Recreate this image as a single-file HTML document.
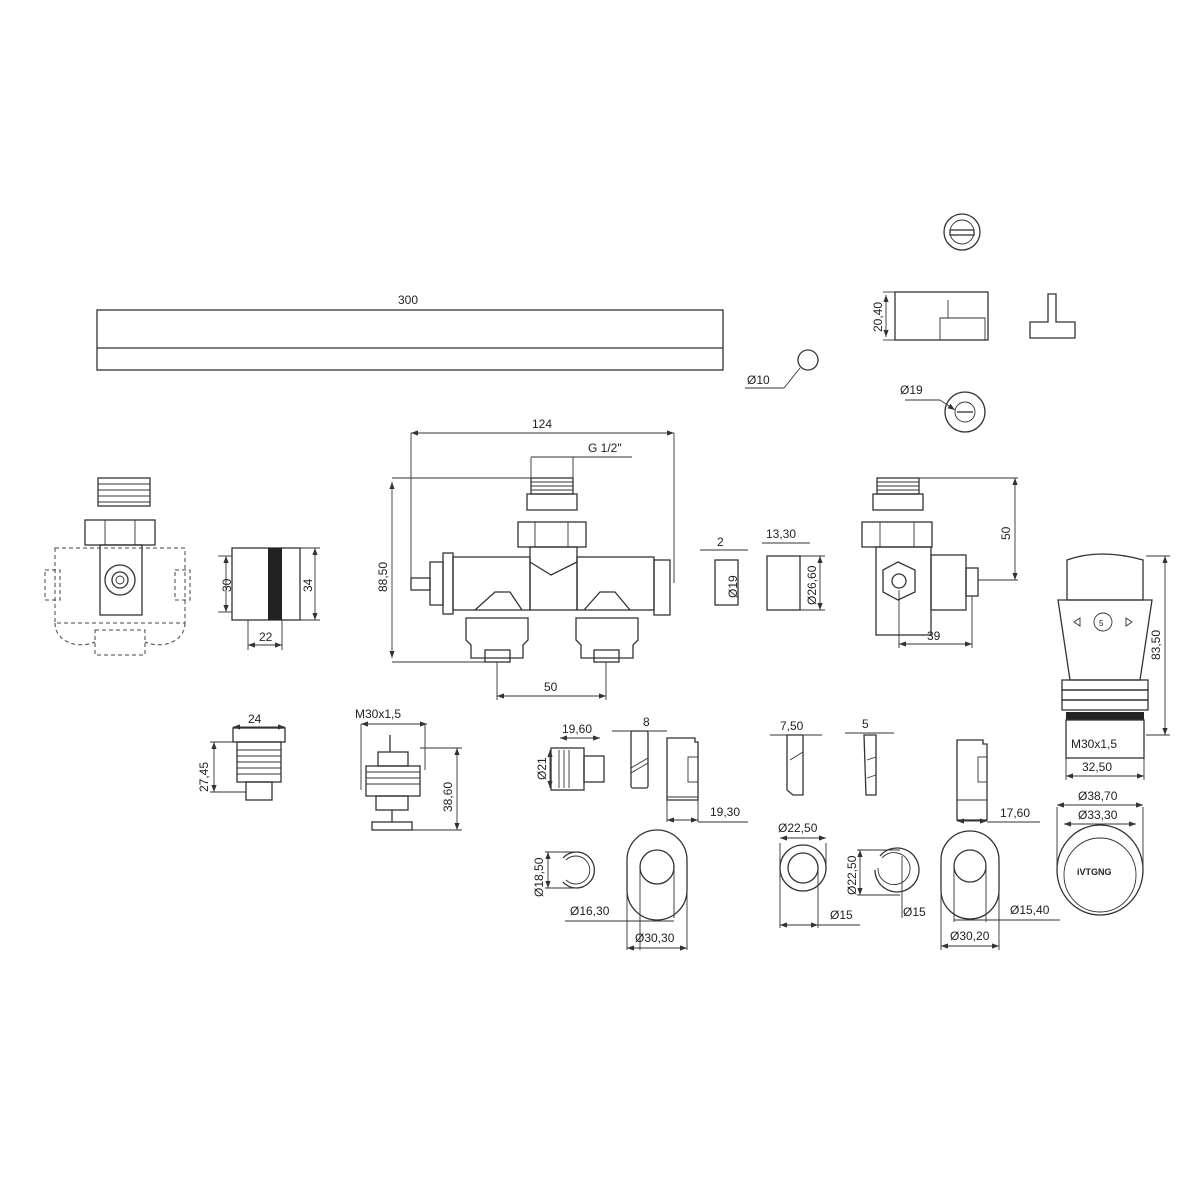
<!DOCTYPE html>
<html><head><meta charset="utf-8"><style>
body{margin:0;background:#fff}
svg{display:block}
text{font-family:"Liberation Sans",sans-serif;font-size:12px;fill:#222}
.l{stroke:#333;stroke-width:1.3;fill:none}
.t{stroke:#333;stroke-width:0.9;fill:none}
.d{stroke:#444;stroke-width:1;fill:none;stroke-dasharray:4 3}
.f{fill:#fff;stroke:#333;stroke-width:1.3}
</style></head><body>
<svg width="1200" height="1200" viewBox="0 0 1200 1200">
<defs><marker id="a" markerWidth="8" markerHeight="6" refX="8" refY="3" orient="auto-start-reverse"><path d="M0,0 L8,3 L0,6z" fill="#333"/></marker></defs>
<!-- bar -->
<rect x="97" y="310" width="626" height="60" class="l"/>
<line x1="97" y1="348" x2="723" y2="348" class="l"/>
<line x1="97" y1="310" x2="723" y2="310" class="t"/>
<text x="398" y="304">300</text>
<!-- Ø10 -->
<circle cx="808" cy="360" r="10" class="l"/>
<line x1="800" y1="368" x2="784" y2="388" class="t"/><line x1="745" y1="388" x2="784" y2="388" class="t"/>
<text x="747" y="384">Ø10</text>
<!-- top right -->
<circle cx="962" cy="232" r="18" class="l"/><circle cx="962" cy="232" r="12" class="t"/>
<rect x="950" y="230" width="24" height="5" class="f"/>
<rect x="895" y="292" width="93" height="48" class="l"/>
<path d="M940,340 V318 H985 V340" class="t"/><line x1="948" y1="318" x2="948" y2="300" class="t"/>
<line x1="883" y1="292" x2="895" y2="292" class="t"/><line x1="883" y1="340" x2="895" y2="340" class="t"/>
<line x1="886" y1="295" x2="886" y2="337" class="t" marker-start="url(#a)" marker-end="url(#a)"/>
<text transform="translate(882,332) rotate(-90)">20,40</text>
<path d="M1030,338 V322 H1048 V294 H1056 V322 H1075 V338 Z" class="l"/>
<circle cx="965" cy="412" r="20" class="l"/><circle cx="965" cy="412" r="10" class="t"/>
<path d="M957,412 H973" class="l"/>
<line x1="905" y1="400" x2="940" y2="400" class="t"/><line x1="940" y1="400" x2="955" y2="410" class="t" marker-end="url(#a)"/>
<text x="900" y="394">Ø19</text>
<!-- left valve -->
<rect x="98" y="478" width="52" height="28" class="l"/>
<g class="t"><line x1="98" y1="484" x2="150" y2="484"/><line x1="98" y1="490" x2="150" y2="490"/><line x1="98" y1="496" x2="150" y2="496"/><line x1="98" y1="502" x2="150" y2="502"/></g>
<rect x="85" y="520" width="70" height="25" class="l"/><line x1="105" y1="520" x2="105" y2="545" class="t"/><line x1="135" y1="520" x2="135" y2="545" class="t"/>
<rect x="100" y="545" width="42" height="70" class="l"/>
<rect x="55" y="548" width="130" height="75" class="d"/>
<path d="M45,570 H60 V600 H45 Z M175,570 H190 V600 H175 Z" class="d"/>
<path d="M55,623 C55,640 75,650 95,642 M185,623 C185,640 165,650 145,642" class="d"/>
<rect x="95" y="630" width="50" height="25" class="d"/>
<circle cx="120" cy="580" r="15" class="l"/><circle cx="120" cy="580" r="8" class="l"/><circle cx="120" cy="580" r="4" class="t"/>
<!-- cylinder -->
<rect x="232" y="548" width="68" height="72" class="l"/>
<rect x="268" y="548" width="14" height="72" fill="#222"/>
<line x1="218" y1="556" x2="232" y2="556" class="t"/><line x1="218" y1="612" x2="232" y2="612" class="t"/>
<line x1="226" y1="556" x2="226" y2="612" class="t" marker-start="url(#a)" marker-end="url(#a)"/>
<text transform="translate(231,592) rotate(-90)">30</text>
<line x1="300" y1="548" x2="320" y2="548" class="t"/><line x1="300" y1="620" x2="320" y2="620" class="t"/>
<line x1="315" y1="548" x2="315" y2="620" class="t" marker-start="url(#a)" marker-end="url(#a)"/>
<text transform="translate(312,592) rotate(-90)">34</text>
<line x1="248" y1="620" x2="248" y2="650" class="t"/><line x1="282" y1="620" x2="282" y2="650" class="t"/>
<line x1="248" y1="645" x2="282" y2="645" class="t" marker-start="url(#a)" marker-end="url(#a)"/>
<text x="259" y="641">22</text>
<!-- main valve -->
<line x1="411" y1="433" x2="674" y2="433" class="t" marker-start="url(#a)" marker-end="url(#a)"/>
<text x="532" y="428">124</text>
<line x1="411" y1="433" x2="411" y2="583" class="t"/><line x1="674" y1="433" x2="674" y2="583" class="t"/>
<line x1="531" y1="457" x2="632" y2="457" class="t"/>
<line x1="531" y1="457" x2="531" y2="480" class="t"/><line x1="573" y1="457" x2="573" y2="480" class="t"/>
<text x="588" y="452">G 1/2"</text>
<rect x="531" y="478" width="42" height="16" class="l"/>
<g class="t"><line x1="531" y1="482" x2="573" y2="482"/><line x1="531" y1="486" x2="573" y2="486"/><line x1="531" y1="490" x2="573" y2="490"/></g>
<path d="M527,494 H577 V510 H527 Z" class="l"/>
<rect x="518" y="522" width="68" height="25" class="l"/><line x1="535" y1="522" x2="535" y2="547" class="t"/><line x1="568" y1="522" x2="568" y2="547" class="t"/>
<rect x="530" y="547" width="47" height="63" class="l"/>
<path d="M530,562 L551,575 L577,562" class="l"/>
<rect x="453" y="557" width="77" height="53" class="l"/><rect x="577" y="557" width="77" height="53" class="l"/>
<rect x="443" y="553" width="10" height="61" class="l"/><rect x="430" y="562" width="13" height="43" class="l"/><rect x="411" y="578" width="19" height="12" class="l"/>
<rect x="654" y="560" width="16" height="55" class="l"/>
<path d="M475,610 L495,592 L510,592 L522,610" class="l"/><path d="M584,610 L600,592 L615,592 L630,610" class="l"/>
<path d="M466,618 H528 V640 L523,645 V658 H471 V645 L466,640 Z" class="l"/>
<path d="M576,618 H638 V640 L633,645 V658 H581 V645 L576,640 Z" class="l"/>
<rect x="485" y="650" width="25" height="12" class="l"/><rect x="594" y="650" width="25" height="12" class="l"/>
<line x1="392" y1="478" x2="531" y2="478" class="t"/><line x1="392" y1="662" x2="490" y2="662" class="t"/>
<line x1="392" y1="482" x2="392" y2="658" class="t" marker-start="url(#a)" marker-end="url(#a)"/>
<text transform="translate(387,592) rotate(-90)">88,50</text>
<line x1="497" y1="662" x2="497" y2="700" class="t"/><line x1="606" y1="662" x2="606" y2="700" class="t"/>
<line x1="497" y1="696" x2="606" y2="696" class="t" marker-start="url(#a)" marker-end="url(#a)"/>
<text x="544" y="691">50</text>
<!-- small parts 2 / 13,30 -->
<rect x="715" y="560" width="23" height="45" class="l"/>
<line x1="700" y1="550" x2="748" y2="550" class="t"/><text x="717" y="546">2</text>
<text transform="translate(737,598) rotate(-90)">Ø19</text>
<rect x="767" y="556" width="33" height="54" class="l"/>
<line x1="762" y1="543" x2="810" y2="543" class="t"/><text x="766" y="538">13,30</text>
<line x1="800" y1="556" x2="825" y2="556" class="t"/><line x1="800" y1="610" x2="825" y2="610" class="t"/>
<line x1="820" y1="556" x2="820" y2="610" class="t" marker-start="url(#a)" marker-end="url(#a)"/>
<text transform="translate(816,605) rotate(-90)">Ø26,60</text>
<!-- right valve -->
<rect x="877" y="478" width="42" height="16" class="l"/>
<g class="t"><line x1="877" y1="482" x2="919" y2="482"/><line x1="877" y1="486" x2="919" y2="486"/><line x1="877" y1="490" x2="919" y2="490"/></g>
<rect x="873" y="494" width="50" height="16" class="l"/>
<rect x="862" y="522" width="70" height="25" class="l"/><line x1="880" y1="522" x2="880" y2="547" class="t"/><line x1="914" y1="522" x2="914" y2="547" class="t"/>
<rect x="876" y="547" width="55" height="88" class="l"/>
<rect x="931" y="555" width="35" height="55" class="l"/><rect x="966" y="568" width="12" height="28" class="l"/>
<polygon points="883,570 898,562 915,570 915,592 898,600 883,592" class="l"/><circle cx="899" cy="581" r="7" class="l"/>
<line x1="919" y1="478" x2="1018" y2="478" class="t"/><line x1="978" y1="580" x2="1018" y2="580" class="t"/>
<line x1="1015" y1="478" x2="1015" y2="580" class="t" marker-start="url(#a)" marker-end="url(#a)"/>
<text transform="translate(1010,540) rotate(-90)">50</text>
<line x1="899" y1="590" x2="899" y2="648" class="t"/><line x1="972" y1="596" x2="972" y2="648" class="t"/>
<line x1="899" y1="644" x2="972" y2="644" class="t" marker-start="url(#a)" marker-end="url(#a)"/>
<text x="927" y="640">39</text>
<!-- thermostat head -->
<path d="M1067,560 Q1100,548 1143,560 V600 H1067 Z" class="l"/>
<path d="M1058,600 H1152 L1140,680 H1070 Z" class="l"/>
<circle cx="1103" cy="622" r="9" class="t"/><text x="1099" y="626" style="font-size:8px">5</text>
<path d="M1080,618 l-6,4 6,4z M1126,618 l6,4 -6,4z" class="t"/>
<g class="l"><rect x="1062" y="680" width="86" height="10"/><rect x="1062" y="690" width="86" height="10"/><rect x="1062" y="700" width="86" height="10"/></g>
<rect x="1066" y="712" width="78" height="8" fill="#222"/>
<rect x="1066" y="720" width="78" height="38" class="l"/>
<text x="1071" y="748">M30x1,5</text>
<line x1="1146" y1="556" x2="1170" y2="556" class="t"/><line x1="1146" y1="735" x2="1170" y2="735" class="t"/>
<line x1="1165" y1="556" x2="1165" y2="735" class="t" marker-start="url(#a)" marker-end="url(#a)"/>
<text transform="translate(1160,660) rotate(-90)">83,50</text>
<line x1="1066" y1="758" x2="1066" y2="780" class="t"/><line x1="1144" y1="758" x2="1144" y2="780" class="t"/>
<line x1="1066" y1="776" x2="1144" y2="776" class="t" marker-start="url(#a)" marker-end="url(#a)"/>
<text x="1082" y="771">32,50</text>
<!-- 24 / 27,45 -->
<rect x="233" y="728" width="52" height="14" class="l"/>
<rect x="237" y="742" width="44" height="40" class="l"/>
<g class="t"><line x1="237" y1="750" x2="281" y2="750"/><line x1="237" y1="756" x2="281" y2="756"/><line x1="237" y1="762" x2="281" y2="762"/><line x1="237" y1="768" x2="281" y2="768"/><line x1="237" y1="774" x2="281" y2="774"/></g>
<rect x="246" y="782" width="26" height="18" class="l"/>
<line x1="233" y1="727" x2="285" y2="727" class="t" marker-start="url(#a)" marker-end="url(#a)"/><text x="248" y="723">24</text>
<line x1="210" y1="742" x2="233" y2="742" class="t"/><line x1="210" y1="792" x2="246" y2="792" class="t"/>
<line x1="214" y1="742" x2="214" y2="792" class="t" marker-start="url(#a)" marker-end="url(#a)"/>
<text transform="translate(208,792) rotate(-90)">27,45</text>
<!-- M30x1,5 38,60 -->
<text x="355" y="718">M30x1,5</text>
<line x1="361" y1="724" x2="427" y2="724" class="t" marker-start="url(#a)" marker-end="url(#a)"/>
<line x1="361" y1="724" x2="361" y2="790" class="t"/><line x1="425" y1="724" x2="425" y2="770" class="t"/>
<rect x="378" y="752" width="30" height="14" class="l"/><line x1="390" y1="735" x2="390" y2="752" class="l"/>
<rect x="366" y="766" width="54" height="30" class="l"/>
<g class="t"><line x1="366" y1="772" x2="420" y2="772"/><line x1="366" y1="778" x2="420" y2="778"/><line x1="366" y1="784" x2="420" y2="784"/></g>
<rect x="376" y="796" width="32" height="14" class="l"/><rect x="372" y="822" width="40" height="8" class="l"/><line x1="392" y1="810" x2="392" y2="822" class="l"/>
<line x1="420" y1="748" x2="462" y2="748" class="t"/><line x1="412" y1="830" x2="462" y2="830" class="t"/>
<line x1="457" y1="748" x2="457" y2="830" class="t" marker-start="url(#a)" marker-end="url(#a)"/>
<text transform="translate(452,812) rotate(-90)">38,60</text>
<!-- 19,60 part -->
<rect x="551" y="748" width="33" height="42" class="l"/>
<g class="t"><line x1="559" y1="750" x2="559" y2="788"/><line x1="564" y1="750" x2="564" y2="788"/><line x1="569" y1="750" x2="569" y2="788"/></g>
<rect x="584" y="756" width="20" height="26" class="l"/>
<line x1="560" y1="738" x2="600" y2="738" class="t" marker-start="url(#a)" marker-end="url(#a)"/><text x="562" y="733">19,60</text>
<line x1="550" y1="750" x2="550" y2="788" class="t" marker-start="url(#a)" marker-end="url(#a)"/>
<text transform="translate(546,780) rotate(-90)">Ø21</text>
<!-- 8 -->
<rect x="631" y="731" width="17" height="57" rx="2" class="l"/><path d="M631,768 L648,758 M631,773 L648,763" class="t"/>
<line x1="612" y1="731" x2="667" y2="731" class="t"/><text x="643" y="726">8</text>
<!-- 19,30 -->
<path d="M667,738 H695 V742 H698 V800 H667 Z" class="l"/><rect x="688" y="757" width="10" height="25" class="t"/><line x1="667" y1="797" x2="698" y2="797" class="t"/>
<line x1="667" y1="800" x2="667" y2="822" class="t"/><line x1="698" y1="822" x2="748" y2="822" class="t"/><line x1="698" y1="800" x2="698" y2="822" class="t"/>
<line x1="667" y1="820" x2="698" y2="820" class="t" marker-start="url(#a)" marker-end="url(#a)"/>
<text x="710" y="816">19,30</text>
<!-- 7,50 -->
<path d="M787,735 H803 V795 H793 L787,790 Z" class="l"/><path d="M790,760 L803,752" class="t"/>
<line x1="770" y1="735" x2="822" y2="735" class="t"/><text x="780" y="730">7,50</text>
<!-- 5 -->
<path d="M864,735 H876 V795 H866 Z" class="l"/><path d="M867,760 L876,757 M867,778 L876,775" class="t"/>
<line x1="845" y1="733" x2="894" y2="733" class="t"/><text x="862" y="728">5</text>
<!-- 17,60 -->
<path d="M957,740 H983 V744 H987 V820 H957 Z" class="l"/><rect x="978" y="757" width="9" height="25" class="t"/><line x1="957" y1="800" x2="987" y2="800" class="t"/>
<line x1="957" y1="821" x2="987" y2="821" class="t" marker-start="url(#a)" marker-end="url(#a)"/><line x1="987" y1="822" x2="1040" y2="822" class="t"/>
<text x="1000" y="817">17,60</text>
<!-- bottom rings -->
<path d="M563,882 A18,18 0 1,0 563,858" class="l"/><path d="M566,880 A14,14 0 1,0 566,860" class="t"/>
<line x1="545" y1="852" x2="580" y2="852" class="t"/><line x1="545" y1="888" x2="580" y2="888" class="t"/>
<line x1="548" y1="852" x2="548" y2="888" class="t" marker-start="url(#a)" marker-end="url(#a)"/>
<text transform="translate(543,897) rotate(-90)">Ø18,50</text>
<path d="M627,860 A30,30 0 0,1 687,860 V890 A30,30 0 0,1 627,890 Z" class="l"/>
<circle cx="657" cy="867" r="17" class="l"/>
<line x1="640" y1="867" x2="640" y2="950" class="t"/><line x1="674" y1="867" x2="674" y2="918" class="t"/><line x1="627" y1="890" x2="627" y2="950" class="t"/><line x1="687" y1="890" x2="687" y2="950" class="t"/>
<line x1="565" y1="921" x2="674" y2="921" class="t"/><text x="570" y="915">Ø16,30</text>
<line x1="627" y1="948" x2="687" y2="948" class="t" marker-start="url(#a)" marker-end="url(#a)"/><text x="635" y="942">Ø30,30</text>
<circle cx="803" cy="868" r="23" class="l"/><circle cx="803" cy="868" r="15" class="l"/>
<line x1="780" y1="843" x2="780" y2="928" class="t"/><line x1="826" y1="843" x2="826" y2="868" class="t"/><line x1="818" y1="868" x2="818" y2="928" class="t"/>
<line x1="780" y1="838" x2="826" y2="838" class="t" marker-start="url(#a)" marker-end="url(#a)"/><text x="778" y="832">Ø22,50</text>
<line x1="780" y1="925" x2="818" y2="925" class="t" marker-start="url(#a)" marker-end="url(#a)"/><line x1="818" y1="925" x2="860" y2="925" class="t"/><text x="830" y="919">Ø15</text>
<path d="M875,870 A22,22 0 1,0 880,856" class="l"/><path d="M878,868 A16,16 0 1,0 882,858" class="t"/>
<line x1="857" y1="850" x2="900" y2="850" class="t"/><line x1="857" y1="895" x2="900" y2="895" class="t"/>
<line x1="860" y1="850" x2="860" y2="895" class="t" marker-start="url(#a)" marker-end="url(#a)"/>
<text transform="translate(856,895) rotate(-90)">Ø22,50</text>
<line x1="902" y1="856" x2="902" y2="918" class="t"/><text x="903" y="916">Ø15</text>
<path d="M941,860 A29,29 0 0,1 999,860 V890 A29,29 0 0,1 941,890 Z" class="l"/>
<circle cx="970" cy="866" r="16" class="l"/>
<line x1="954" y1="866" x2="954" y2="922" class="t"/><line x1="986" y1="866" x2="986" y2="922" class="t"/><line x1="941" y1="890" x2="941" y2="950" class="t"/><line x1="999" y1="890" x2="999" y2="950" class="t"/>
<line x1="954" y1="920" x2="1060" y2="920" class="t"/><text x="1010" y="914">Ø15,40</text>
<line x1="941" y1="946" x2="999" y2="946" class="t" marker-start="url(#a)" marker-end="url(#a)"/><text x="950" y="940">Ø30,20</text>
<!-- knob -->
<ellipse cx="1100" cy="870" rx="43" ry="45" class="l"/><ellipse cx="1100" cy="875" rx="36" ry="37" class="t"/>
<text x="1077" y="875" style="font-size:9px;font-weight:bold">iVTGNG</text>
<line x1="1057" y1="807" x2="1057" y2="870" class="t"/><line x1="1143" y1="807" x2="1143" y2="870" class="t"/>
<line x1="1057" y1="805" x2="1143" y2="805" class="t" marker-start="url(#a)" marker-end="url(#a)"/><text x="1078" y="800">Ø38,70</text>
<line x1="1064" y1="824" x2="1136" y2="824" class="t" marker-start="url(#a)" marker-end="url(#a)"/><text x="1078" y="819">Ø33,30</text>
</svg>
</body></html>
